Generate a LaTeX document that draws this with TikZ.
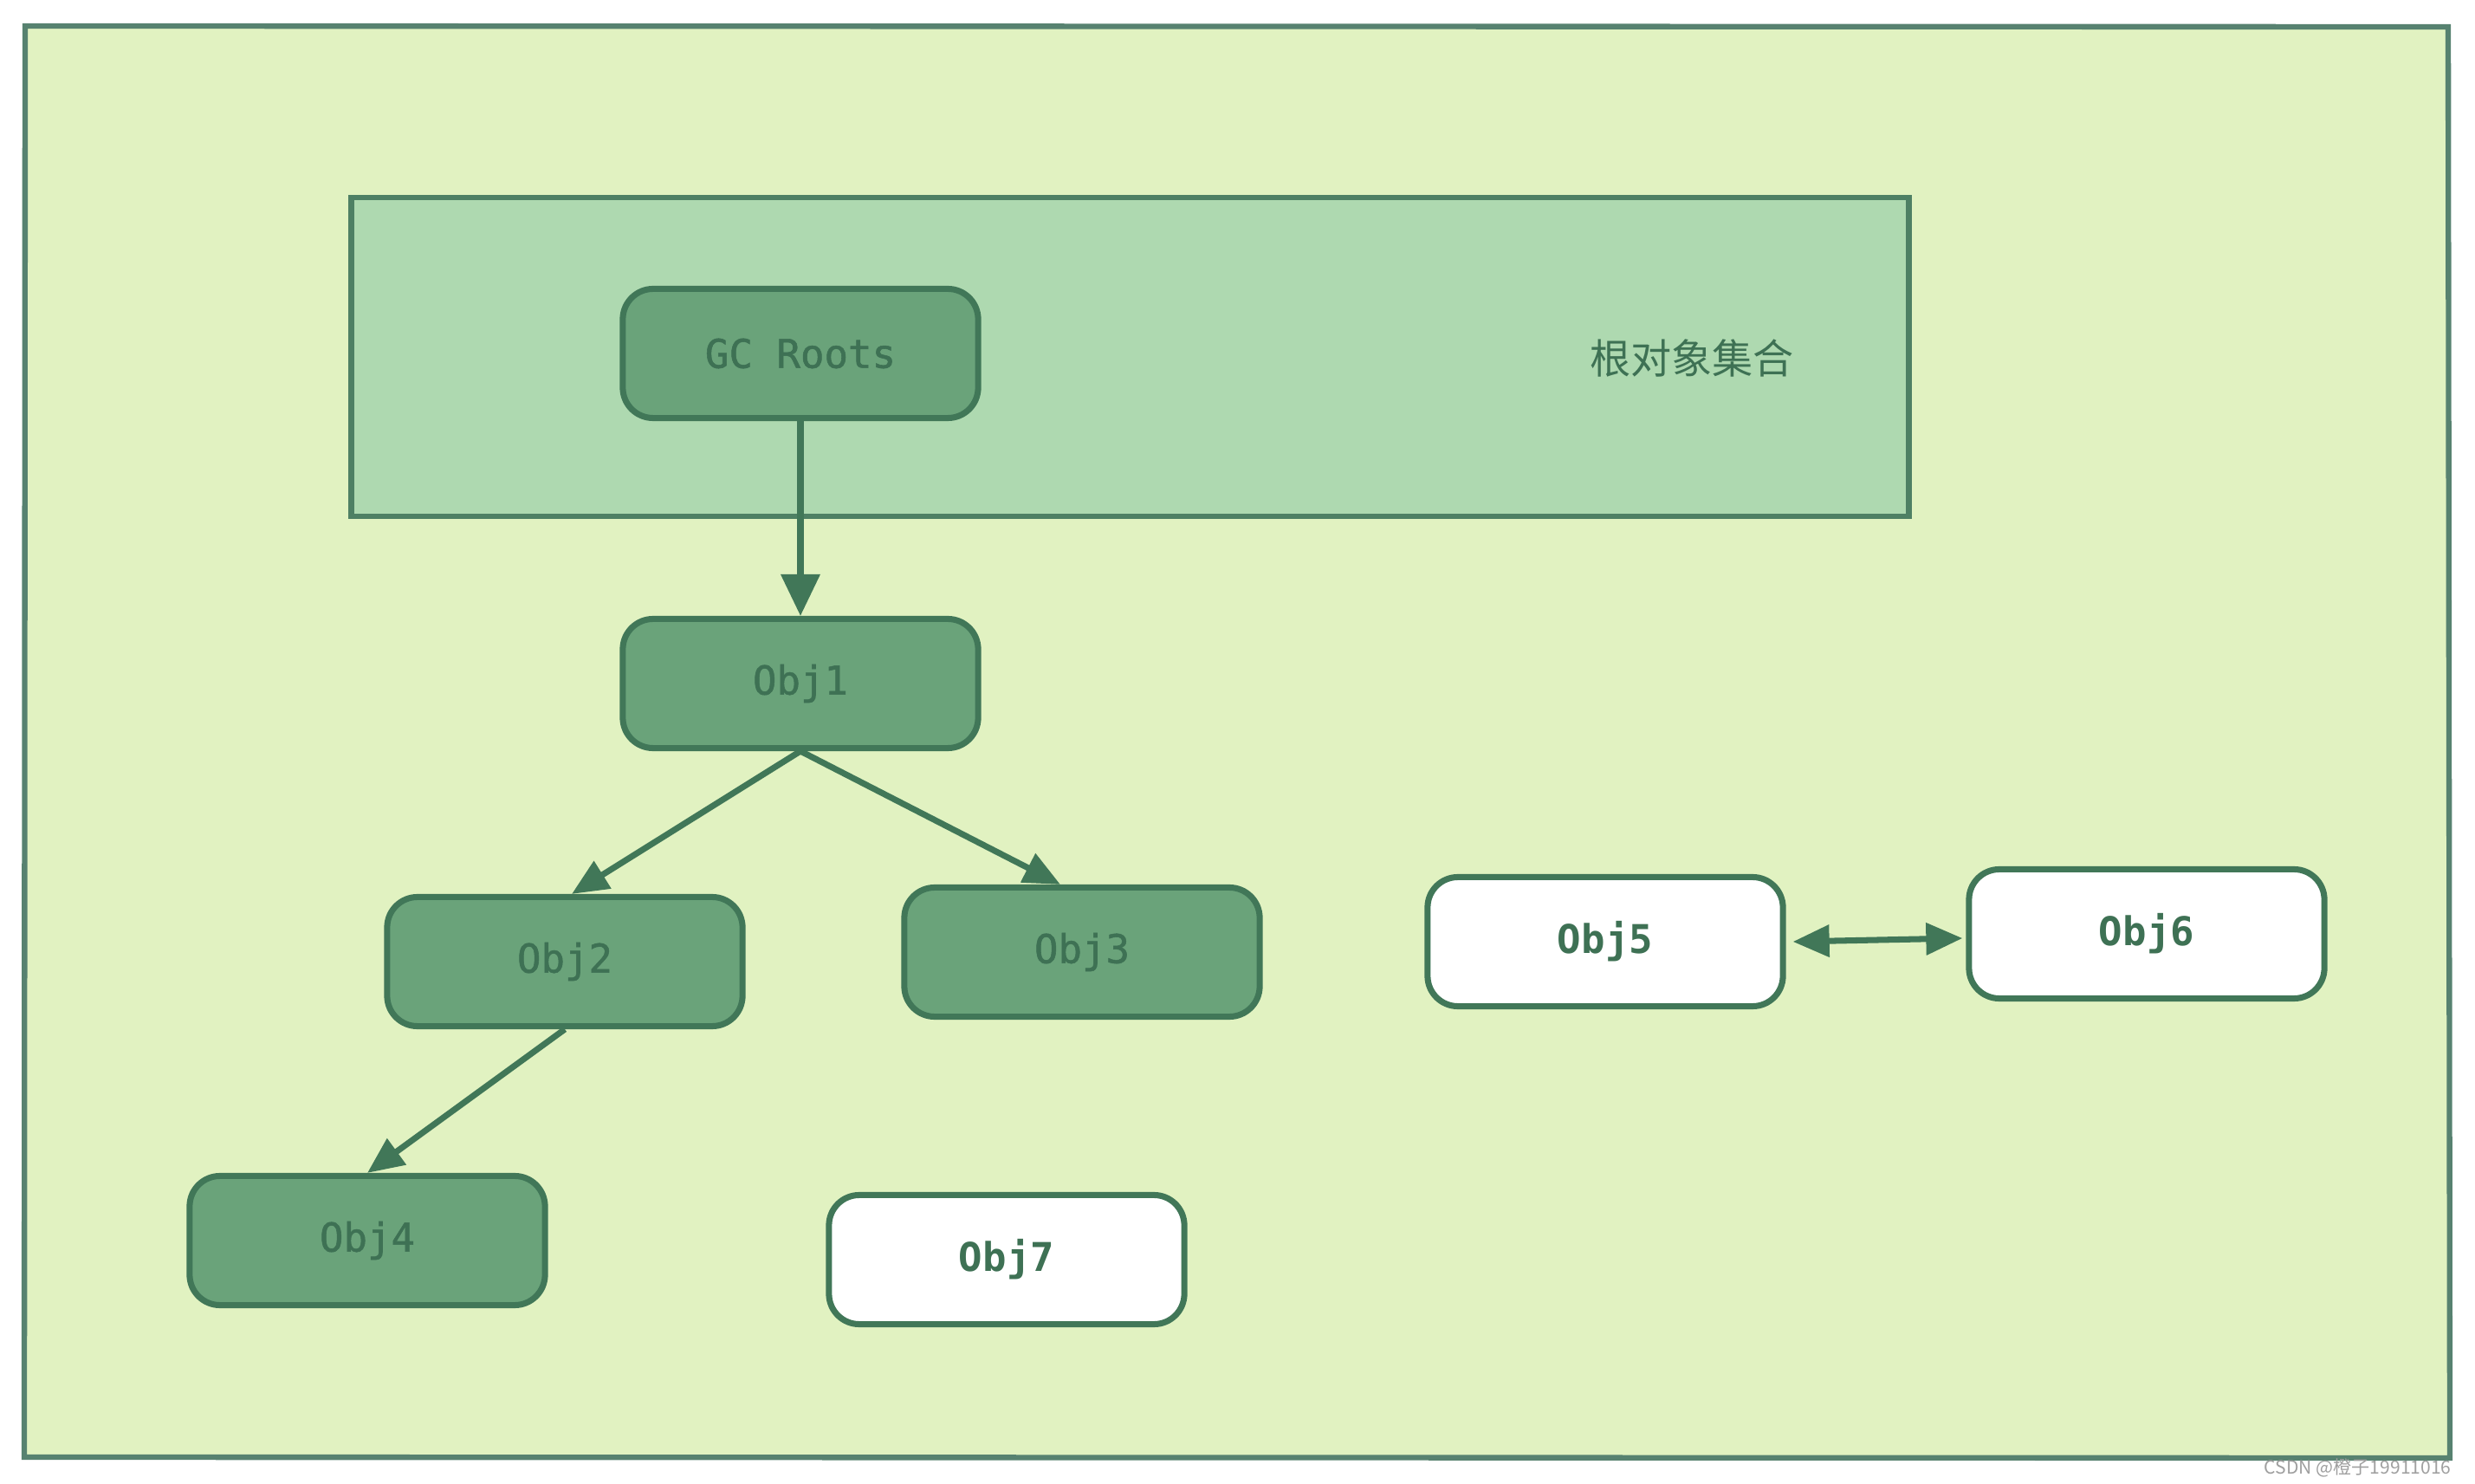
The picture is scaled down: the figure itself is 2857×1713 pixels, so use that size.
\documentclass[tikz,border=0pt]{standalone}
\usepackage{fontspec}
\setmonofont{DejaVu Sans Mono}
\newfontfamily\medmono[FakeBold=1.2]{DejaVu Sans Mono}
\newfontfamily\cjk{Noto Sans CJK SC}
\usetikzlibrary{arrows.meta}
\definecolor{bgouter}{RGB}{225,242,193}
\definecolor{outerline}{RGB}{87,130,112}
\definecolor{rootfill}{RGB}{174,217,176}
\definecolor{rootline}{RGB}{78,128,100}
\definecolor{objfill}{RGB}{106,163,122}
\definecolor{objline}{RGB}{65,119,88}
\definecolor{objtext}{RGB}{62,113,84}
\tikzset{
  objbox/.style={draw=objline, line width=2pt, rounded corners=0.35cm,
    minimum width=4.1cm, minimum height=1.49cm, inner sep=0pt,
    font=\medmono\fontsize{13}{15}\selectfont, text=objtext},
  live/.style={objbox, fill=objfill},
  dead/.style={objbox, fill=white, font=\ttfamily\bfseries\fontsize{13}{15}\selectfont},
  conn/.style={draw=objline, line width=2pt, -{Triangle[length=0.42cm,width=0.36cm]}},
  bothconn/.style={draw=objline, line width=2pt, {Triangle[length=0.42cm,width=0.36cm]}-{Triangle[length=0.42cm,width=0.36cm]}}
}
\begin{document}
\begin{tikzpicture}[x=0.01cm,y=-0.01cm]
\useasboundingbox (0,0) rectangle (2857,1713);
% outer frame
\draw[fill=bgouter, draw=outerline, line width=1.8pt] (29,30) -- (2826,31) -- (2828,1683) -- (28,1682) -- cycle;
% root set
\node[draw=rootline, fill=rootfill, line width=1.8pt, minimum width=17.97cm, minimum height=3.68cm, inner sep=0pt] (rootset) at (1304.5,412) {};
\node[text=objtext, font=\cjk\fontsize{13.4}{15}\selectfont] (rootlabel) at (1953,414) {根对象集合};
% objects
\node[live] (gc) at (924,408) {GC Roots};
\node[live] (o1) at (924,789) {Obj1};
\node[live] (o2) at (652,1110) {Obj2};
\node[live] (o3) at (1249,1099) {Obj3};
\node[live] (o4) at (424,1432) {Obj4};
\node[dead] (o5) at (1853,1087) {Obj5};
\node[dead] (o6) at (2478,1078) {Obj6};
\node[dead] (o7) at (1162,1454) {Obj7};
% connectors
\draw[conn, -{Triangle[length=0.48cm,width=0.44cm]}] (gc.south) -- (o1.north);
\draw[conn] (o1.south) -- ([xshift=0.08cm]o2.north);
\draw[conn] (o1.south) -- ([xshift=-0.25cm]o3.north);
\draw[conn] (o2.south) -- (o4.north);
\draw[bothconn] ([xshift=0.08cm]o5.east) -- ([xshift=-0.04cm,yshift=-0.05cm]o6.west);
% watermark
\node[text=gray!75, font=\cjk\fontsize{6}{7}\selectfont, anchor=east] (wm) at (2842,1694) {CSDN @橙子19911016};
\end{tikzpicture}
\end{document}
